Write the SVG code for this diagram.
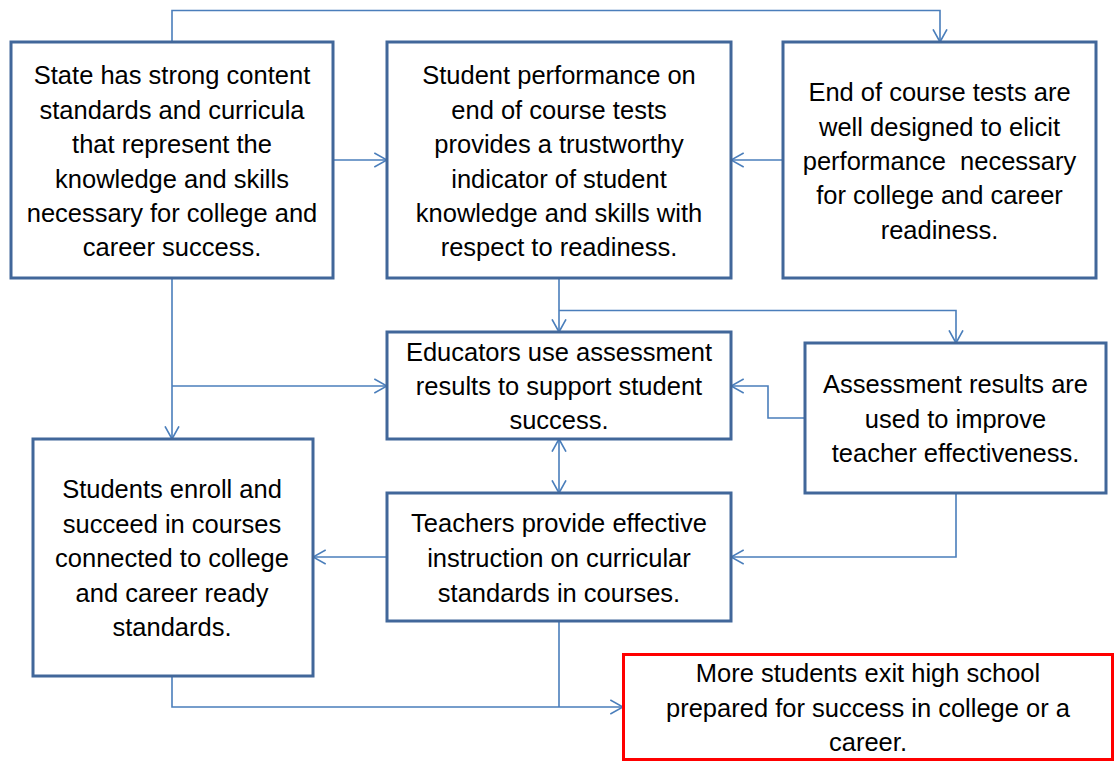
<svg xmlns="http://www.w3.org/2000/svg" width="1115" height="762" viewBox="0 0 1115 762">
<style>
.box{fill:#fff;stroke:#41679A;stroke-width:3}
.red{fill:#fff;stroke:#FF0000;stroke-width:3}
.t{font-family:"Liberation Sans",Arial,sans-serif;font-size:25.5px;fill:#000;text-anchor:middle}
.c{fill:none;stroke:#4A7EBB;stroke-width:1.6}
</style>
<defs>
<marker id="ah" viewBox="0 0 14 16" refX="13.2" refY="8" markerWidth="14" markerHeight="16" markerUnits="userSpaceOnUse" orient="auto-start-reverse">
<path d="M0.5,1 L13.2,8 L0.5,15" fill="none" stroke="#4A7EBB" stroke-width="1.6"/>
</marker>
</defs>
<rect width="1115" height="762" fill="#fff"/>
<g id="connectors">
<path class="c" d="M172,42 V10.5 H940 V42" marker-end="url(#ah)"/>
<path class="c" d="M333,160 H387" marker-end="url(#ah)"/>
<path class="c" d="M783,160 H731" marker-end="url(#ah)"/>
<path class="c" d="M172,278 V439" marker-end="url(#ah)"/>
<path class="c" d="M172,386 H387" marker-end="url(#ah)"/>
<path class="c" d="M559,278 V332" marker-end="url(#ah)"/>
<path class="c" d="M559,310.5 H956 V343" marker-end="url(#ah)"/>
<path class="c" d="M805,418 H768 V386 H731" marker-end="url(#ah)"/>
<path class="c" d="M559,439 V493" marker-start="url(#ah)" marker-end="url(#ah)"/>
<path class="c" d="M956,493 V557 H731" marker-end="url(#ah)"/>
<path class="c" d="M387,557 H313" marker-end="url(#ah)"/>
<path class="c" d="M172,676 V707 H623" marker-end="url(#ah)"/>
<path class="c" d="M559,621 V707"/>
</g>
<g id="state">
<rect class="box" x="11" y="42" width="322" height="236"/>
<text class="t"><tspan x="172" y="84">State has strong content</tspan><tspan x="172" y="118.5">standards and curricula</tspan><tspan x="172" y="153">that represent the</tspan><tspan x="172" y="187.5">knowledge and skills</tspan><tspan x="172" y="222">necessary for college and</tspan><tspan x="172" y="256">career success.</tspan></text>
</g>
<g id="performance">
<rect class="box" x="387" y="42" width="344" height="236"/>
<text class="t"><tspan x="559" y="84">Student performance on</tspan><tspan x="559" y="118.5">end of course tests</tspan><tspan x="559" y="153">provides a trustworthy</tspan><tspan x="559" y="187.5">indicator of student</tspan><tspan x="559" y="222">knowledge and skills with</tspan><tspan x="559" y="256">respect to readiness.</tspan></text>
</g>
<g id="tests">
<rect class="box" x="783" y="42" width="313" height="236"/>
<text class="t"><tspan x="939.5" y="101">End of course tests are</tspan><tspan x="939.5" y="135.5">well designed to elicit</tspan><tspan x="939.5" y="170">performance&#160; necessary</tspan><tspan x="939.5" y="204">for college and career</tspan><tspan x="939.5" y="238.5">readiness.</tspan></text>
</g>
<g id="educators">
<rect class="box" x="387" y="332" width="344" height="107"/>
<text class="t"><tspan x="559" y="361">Educators use assessment</tspan><tspan x="559" y="395">results to support student</tspan><tspan x="559" y="429">success.</tspan></text>
</g>
<g id="assessment">
<rect class="box" x="805" y="343" width="301" height="150"/>
<text class="t"><tspan x="955.5" y="393">Assessment results are</tspan><tspan x="955.5" y="428">used to improve</tspan><tspan x="955.5" y="462">teacher effectiveness.</tspan></text>
</g>
<g id="enroll">
<rect class="box" x="33" y="439" width="280" height="237"/>
<text class="t"><tspan x="172" y="498">Students enroll and</tspan><tspan x="172" y="533">succeed in courses</tspan><tspan x="172" y="567">connected to college</tspan><tspan x="172" y="602">and career ready</tspan><tspan x="172" y="636">standards.</tspan></text>
</g>
<g id="teachers">
<rect class="box" x="387" y="493" width="344" height="128"/>
<text class="t"><tspan x="559" y="532">Teachers provide effective</tspan><tspan x="559" y="567">instruction on curricular</tspan><tspan x="559" y="602">standards in courses.</tspan></text>
</g>
<g id="outcome">
<rect class="red" x="623.5" y="654.5" width="489" height="105"/>
<text class="t"><tspan x="868" y="682">More students exit high school</tspan><tspan x="868" y="717">prepared for success in college or a</tspan><tspan x="868" y="751">career.</tspan></text>
</g>
</svg>
